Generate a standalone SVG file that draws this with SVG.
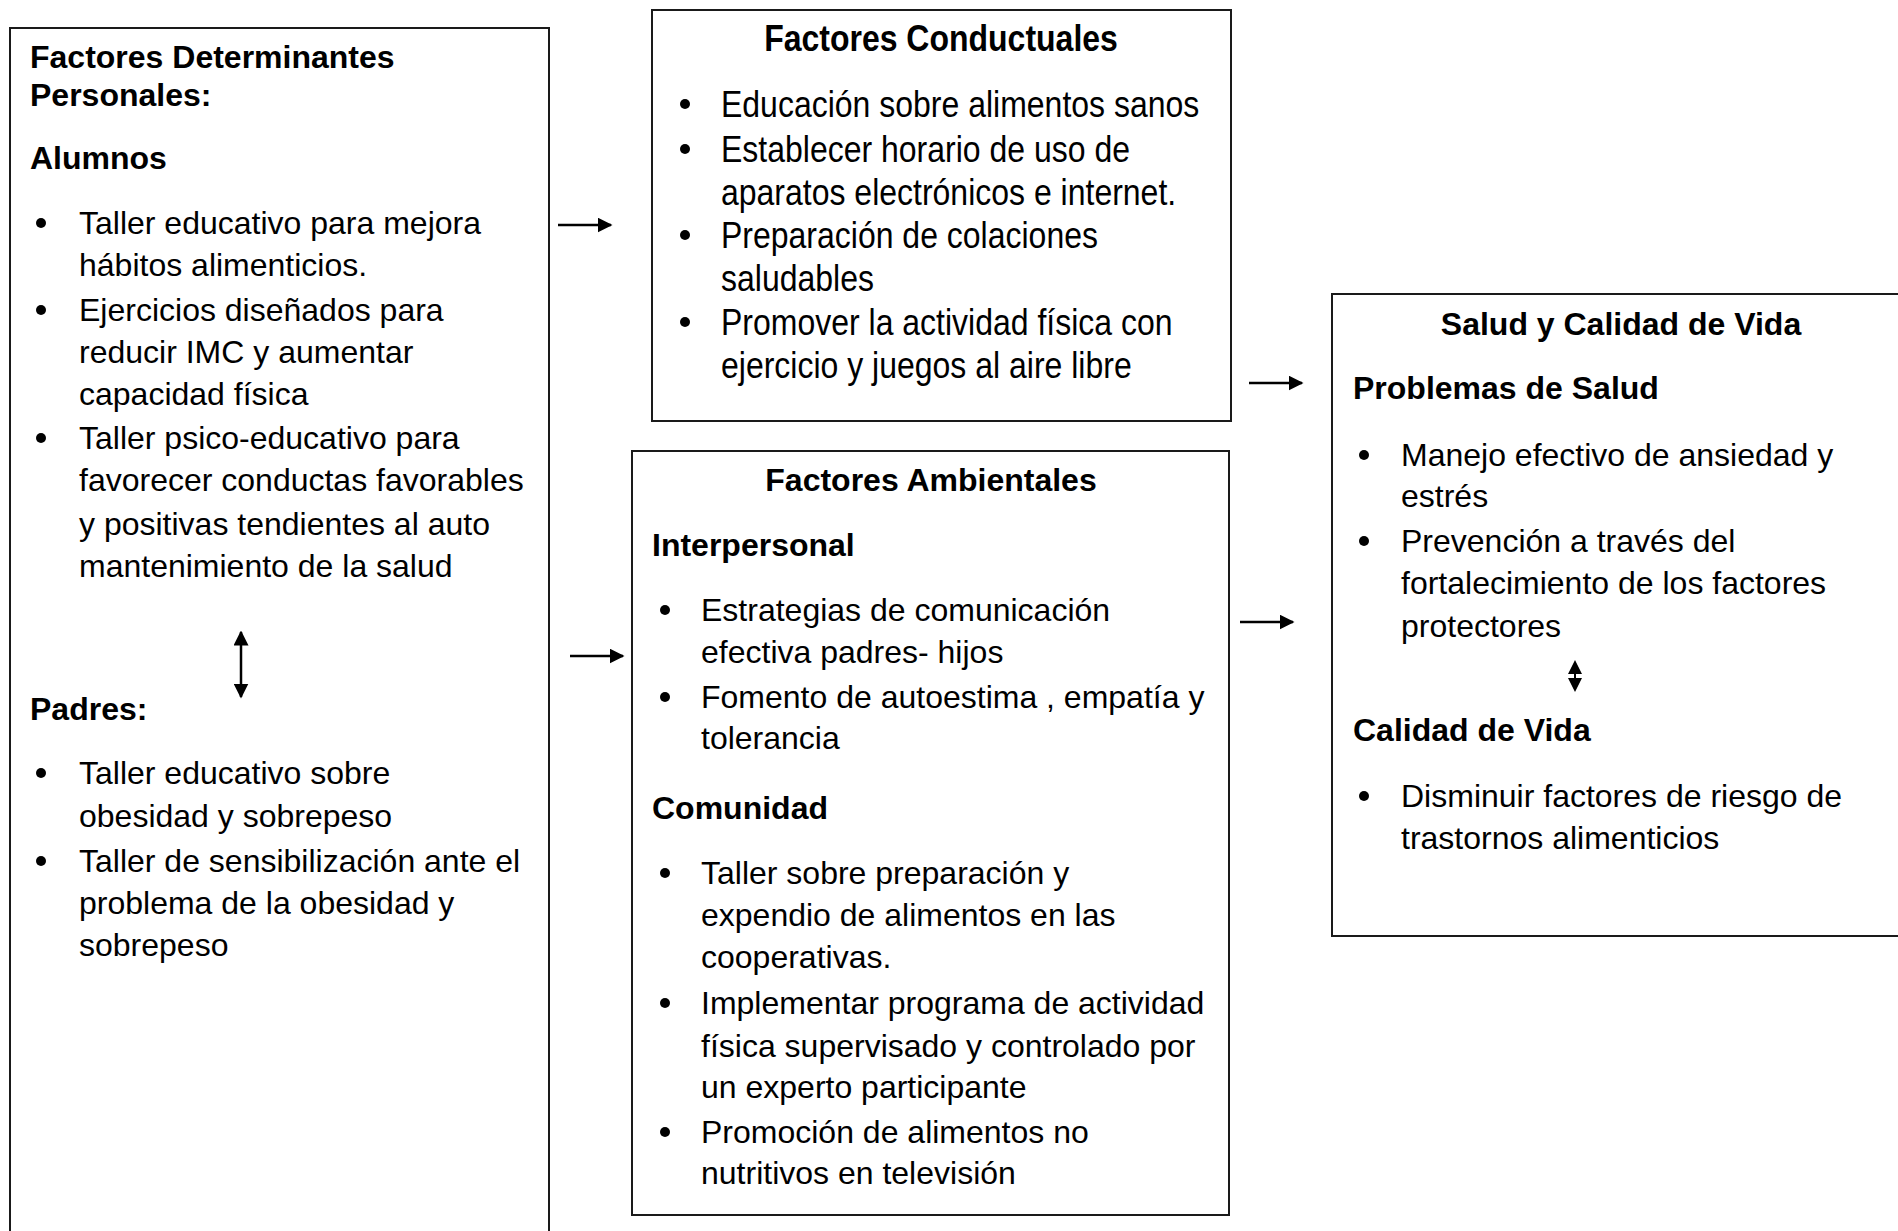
<svg xmlns="http://www.w3.org/2000/svg" width="1898" height="1231" viewBox="0 0 1898 1231">
<style>
.box{fill:#fff;stroke:#1a1a1a;stroke-width:2}
text{font-family:"Liberation Sans",Arial,sans-serif;font-size:32px;fill:#000}
.b{font-weight:bold}
.c{text-anchor:middle}
.dot{fill:#000}
.ln{stroke:#000;stroke-width:2.5;fill:none}
</style>
<defs>
<marker id="ah" viewBox="0 0 10 10" refX="9" refY="5" markerWidth="6" markerHeight="6" orient="auto-start-reverse" markerUnits="strokeWidth">
<path d="M0,0 L10,5 L0,10 z" fill="#000"/>
</marker>
</defs>
<rect width="1898" height="1231" fill="#fff"/>

<g id="personales">
<rect class="box" x="10" y="28" width="539" height="1220"/>
<text class="b" x="30" y="68">Factores Determinantes</text>
<text class="b" x="30" y="106">Personales:</text>
<text class="b" x="30" y="169">Alumnos</text>
<circle class="dot" cx="41" cy="223" r="5"/>
<text x="79" y="234">Taller educativo para mejora</text>
<text x="79" y="276">hábitos alimenticios.</text>
<circle class="dot" cx="41" cy="310" r="5"/>
<text x="79" y="321">Ejercicios diseñados para</text>
<text x="79" y="363">reducir IMC y aumentar</text>
<text x="79" y="405">capacidad física</text>
<circle class="dot" cx="41" cy="438" r="5"/>
<text x="79" y="449">Taller psico-educativo para</text>
<text x="79" y="491">favorecer conductas favorables</text>
<text x="79" y="535">y positivas tendientes al auto</text>
<text x="79" y="577">mantenimiento de la salud</text>
<text class="b" x="30" y="720">Padres:</text>
<circle class="dot" cx="41" cy="773" r="5"/>
<text x="79" y="784">Taller educativo sobre</text>
<text x="79" y="827">obesidad y sobrepeso</text>
<circle class="dot" cx="41" cy="861" r="5"/>
<text x="79" y="872">Taller de sensibilización ante el</text>
<text x="79" y="914">problema de la obesidad y</text>
<text x="79" y="956">sobrepeso</text>
</g>

<g id="conductuales">
<rect class="box" x="652" y="10" width="579" height="411"/>
<text class="b c" transform="translate(941,51) scale(1,1.15)">Factores Conductuales</text>
<circle class="dot" cx="685" cy="104" r="5"/>
<text transform="translate(721,117) scale(1,1.15)">Educación sobre alimentos sanos</text>
<circle class="dot" cx="685" cy="149" r="5"/>
<text transform="translate(721,162) scale(1,1.15)">Establecer horario de uso de</text>
<text transform="translate(721,205) scale(1,1.15)">aparatos electrónicos e internet.</text>
<circle class="dot" cx="685" cy="235" r="5"/>
<text transform="translate(721,248) scale(1,1.15)">Preparación de colaciones</text>
<text transform="translate(721,291) scale(1,1.15)">saludables</text>
<circle class="dot" cx="685" cy="322" r="5"/>
<text transform="translate(721,335) scale(1,1.15)">Promover la actividad física con</text>
<text transform="translate(721,378) scale(1,1.15)">ejercicio y juegos al aire libre</text>
</g>

<g id="ambientales">
<rect class="box" x="632" y="451" width="597" height="764"/>
<text class="b c" x="931" y="491">Factores Ambientales</text>
<text class="b" x="652" y="556">Interpersonal</text>
<circle class="dot" cx="665" cy="610" r="5"/>
<text x="701" y="621">Estrategias de comunicación</text>
<text x="701" y="663">efectiva padres- hijos</text>
<circle class="dot" cx="665" cy="697" r="5"/>
<text x="701" y="708">Fomento de autoestima , empatía y</text>
<text x="701" y="749">tolerancia</text>
<text class="b" x="652" y="819">Comunidad</text>
<circle class="dot" cx="665" cy="873" r="5"/>
<text x="701" y="884">Taller sobre preparación y</text>
<text x="701" y="926">expendio de alimentos en las</text>
<text x="701" y="968">cooperativas.</text>
<circle class="dot" cx="665" cy="1003" r="5"/>
<text x="701" y="1014">Implementar programa de actividad</text>
<text x="701" y="1057">física supervisado y controlado por</text>
<text x="701" y="1098">un experto participante</text>
<circle class="dot" cx="665" cy="1132" r="5"/>
<text x="701" y="1143">Promoción de alimentos no</text>
<text x="701" y="1184">nutritivos en televisión</text>
</g>

<g id="salud">
<rect class="box" x="1332" y="294" width="600" height="642"/>
<text class="b c" x="1621" y="335">Salud y Calidad de Vida</text>
<text class="b" x="1353" y="399">Problemas de Salud</text>
<circle class="dot" cx="1364" cy="455" r="5"/>
<text x="1401" y="466">Manejo efectivo de ansiedad y</text>
<text x="1401" y="507">estrés</text>
<circle class="dot" cx="1364" cy="541" r="5"/>
<text x="1401" y="552">Prevención a través del</text>
<text x="1401" y="594">fortalecimiento de los factores</text>
<text x="1401" y="637">protectores</text>
<text class="b" x="1353" y="741">Calidad de Vida</text>
<circle class="dot" cx="1364" cy="796" r="5"/>
<text x="1401" y="807">Disminuir factores de riesgo de</text>
<text x="1401" y="849">trastornos alimenticios</text>
</g>

<g id="connectors">
<line class="ln" x1="558" y1="225" x2="611" y2="225" marker-end="url(#ah)"/>
<line class="ln" x1="570" y1="656" x2="623" y2="656" marker-end="url(#ah)"/>
<line class="ln" x1="1249" y1="383" x2="1302" y2="383" marker-end="url(#ah)"/>
<line class="ln" x1="1240" y1="622" x2="1293" y2="622" marker-end="url(#ah)"/>
<line class="ln" x1="241" y1="632" x2="241" y2="697" marker-start="url(#ah)" marker-end="url(#ah)"/>
<path d="M1575,660 L1582,674 L1568,674 Z M1575,692 L1582,678 L1568,678 Z" fill="#000"/>
<line x1="1575" y1="670" x2="1575" y2="682" stroke="#000" stroke-width="2"/>
</g>
</svg>
